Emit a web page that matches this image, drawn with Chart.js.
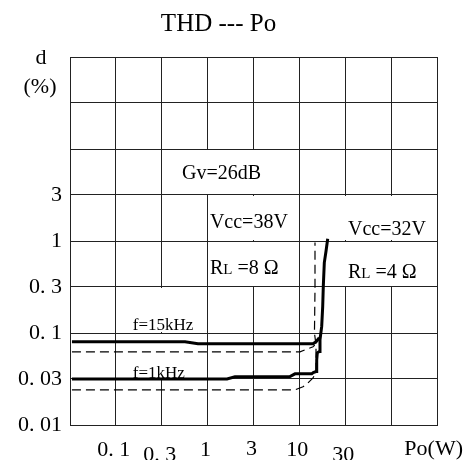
<!DOCTYPE html>
<html>
<head>
<meta charset="utf-8">
<script src="https://cdn.jsdelivr.net/npm/chart.js@4/dist/chart.umd.min.js"></script>
<style>
html, body { margin: 0; padding: 0; background: #fff; }
#wrap { width: 465px; height: 460px; }
</style>
</head>
<body>
<div id="wrap"><canvas id="js--chart--thd"></canvas></div>
<script>
// grid lines (half decades), log axes
const xGrid = [0.031623, 0.1, 0.31623, 1, 3.1623, 10, 31.623, 100, 316.23];
const yGrid = [0.01, 0.031623, 0.1, 0.31623, 1, 3.1623, 10, 31.623, 100];
const yTickLabels = ["0. 01", "0. 03", "0. 1", "0. 3", "1", "3", "", "", ""];
const xTickVals = [0.1, 0.31623, 1, 3.1623, 10, 31.623];
const xTickLabels = ["0. 1", "0. 3", "1", "3", "10", "30"];
const xTickDrop = [0, 5, 0, -1, 0, 5];

// THD (%) vs Po (W)
const po1k  = [0.0332, 1.626, 1.988, 7.90, 8.96, 13.62, 14.18, 15.18, 15.45, 15.68, 16.49, 16.78, 17.51, 17.96, 18.23, 18.70, 19.51, 20.36];
const thd1k = [0.0317, 0.0317, 0.0334, 0.0336, 0.0360, 0.0360, 0.0372, 0.0381, 0.0511, 0.0609, 0.0629, 0.0844, 0.1179, 0.1948, 0.3216, 0.583, 0.774, 1.057];
const po15k  = [0.0332, 0.567, 0.785, 14.08, 15.18, 16.49];
const thd15k = [0.0803, 0.0803, 0.0763, 0.0763, 0.0803, 0.0887];
const po1kDash  = [0.0332, 8.96, 10.95, 12.42, 14.08, 15.18, 15.18, 14.60, 14.80, 14.80];
const thd1kDash = [0.0241, 0.0241, 0.0260, 0.0287, 0.0325, 0.0378, 0.0744, 0.100, 0.300, 0.963];
const po15kDash  = [0.0332, 10.16, 14.08, 14.70];
const thd15kDash = [0.0625, 0.0625, 0.0708, 0.0740];

const notes = [
    { parts: [["Gv=26dB", 20]], i: 2.44, j: 5.49 },
    { parts: [["Vcc=38V", 20]], i: 3.05, j: 4.43 },
    { parts: [["R", 20], ["L", 15], [" =8 Ω", 20]], i: 3.05, j: 3.44 },
    { parts: [["Vcc=32V", 20]], i: 6.06, j: 4.29 },
    { parts: [["R", 20], ["L", 15], [" =4 Ω", 20]], i: 6.06, j: 3.34 },
    { parts: [["f=15kHz", 17]], i: 1.37, j: 2.22 },
    { parts: [["f=1kHz", 17]], i: 1.37, j: 1.18 },
];

const FONT = "'Liberation Serif', 'DejaVu Serif', serif";

function pts(xs, ys) {
    return xs.map((x, k) => ({ x: x, y: ys[k] }));
}

function gx(chart, i) { return chart.scales.x.getPixelForValue(Math.pow(10, (i - 3) / 2)); }
function gy(chart, j) { return chart.scales.y.getPixelForValue(Math.pow(10, (j - 4) / 2)); }

function drawParts(ctx, parts, x, y) {
    let cx = x;
    parts.forEach(([t, size]) => {
        ctx.font = size + "px " + FONT;
        ctx.fillText(t, cx, y);
        cx += ctx.measureText(t).width;
    });
}

// blank cells where the grid is broken for the labels
const cells = [
    [2, 5, 5, 6],
    [3, 5, 4, 5], [3, 5, 3, 4],
    [5, 8, 4, 5], [5, 8, 3, 4],
    [1, 3, 2, 3], [1, 3, 1, 2],
];

const thdPlugin = {
    id: "thdExtras",
    beforeDatasetsDraw(chart) {
        const ctx = chart.ctx;
        ctx.save();
        ctx.fillStyle = "#fff";
        cells.forEach(([i0, i1, j0, j1]) => {
            const x0 = Math.round(gx(chart, i0)) + 1;
            const x1 = Math.round(gx(chart, i1)) - 1;
            const y0 = Math.round(gy(chart, j1)) + 1;
            const y1 = Math.round(gy(chart, j0)) - 1;
            ctx.fillRect(x0, y0, x1 - x0, y1 - y0);
        });
        ctx.restore();
    },
    afterDraw(chart) {
        const ctx = chart.ctx;
        const area = chart.chartArea;
        ctx.save();
        ctx.fillStyle = "#000";
        ctx.textBaseline = "alphabetic";
        ctx.textAlign = "left";
        notes.forEach(n => {
            drawParts(ctx, n.parts, gx(chart, n.i), gy(chart, n.j) + 7);
        });

        ctx.textAlign = "center";
        ctx.textBaseline = "middle";
        ctx.font = "22px " + FONT;
        xTickVals.forEach((v, k) => {
            ctx.fillText(xTickLabels[k], chart.scales.x.getPixelForValue(v) - 2, area.bottom + 25 + xTickDrop[k]);
        });
        ctx.textAlign = "right";
        ctx.fillText("Po(W)", area.right + 26, area.bottom + 24);

        ctx.textAlign = "center";
        ctx.fillText("d", area.left - 29, area.top + 1);
        ctx.fillText("(%)", area.left - 30, area.top + 30);
        ctx.restore();
    }
};

const solid = { borderColor: "#000", borderWidth: 3, pointRadius: 0, showLine: true, tension: 0 };
const dashed = { borderColor: "#000", borderWidth: 1.2, borderDash: [9, 5], pointRadius: 0, showLine: true, tension: 0 };

new Chart(document.getElementById("js--chart--thd"), {
    type: "scatter",
    data: {
        datasets: [
            Object.assign({ label: "f=1kHz", data: pts(po1k, thd1k) }, solid),
            Object.assign({ label: "f=15kHz", data: pts(po15k, thd15k) }, solid),
            Object.assign({ label: "f=1kHz dash", data: pts(po1kDash, thd1kDash) }, dashed),
            Object.assign({ label: "f=15kHz dash", data: pts(po15kDash, thd15kDash) }, dashed),
        ]
    },
    options: {
        responsive: true,
        maintainAspectRatio: false,
        animation: false,
        layout: { padding: { left: 0, right: 28, top: 0, bottom: 0 } },
        plugins: {
            legend: { display: false },
            tooltip: { enabled: false },
            title: {
                display: true,
                text: "THD --- Po",
                color: "#000",
                font: { family: FONT, size: 25, weight: "normal" },
                padding: { top: 9, bottom: 18 }
            }
        },
        scales: {
            x: {
                type: "logarithmic",
                min: xGrid[0],
                max: xGrid[xGrid.length - 1],
                afterBuildTicks: s => { s.ticks = xGrid.map(v => ({ value: v })); },
                afterFit: s => { s.height = 35; },
                ticks: { display: false },
                grid: { color: "#222", lineWidth: 1, drawTicks: false },
                border: { color: "#222", width: 1 }
            },
            y: {
                type: "logarithmic",
                min: yGrid[0],
                max: yGrid[yGrid.length - 1],
                afterBuildTicks: s => { s.ticks = yGrid.map(v => ({ value: v })); },
                afterFit: s => { s.width = 70; },
                ticks: {
                    color: "#000",
                    padding: 8,
                    font: { family: FONT, size: 22 },
                    callback: (v, i) => yTickLabels[i]
                },
                grid: { color: "#222", lineWidth: 1, drawTicks: false },
                border: { color: "#222", width: 1 }
            }
        }
    },
    plugins: [thdPlugin]
});
</script>
</body>
</html>
